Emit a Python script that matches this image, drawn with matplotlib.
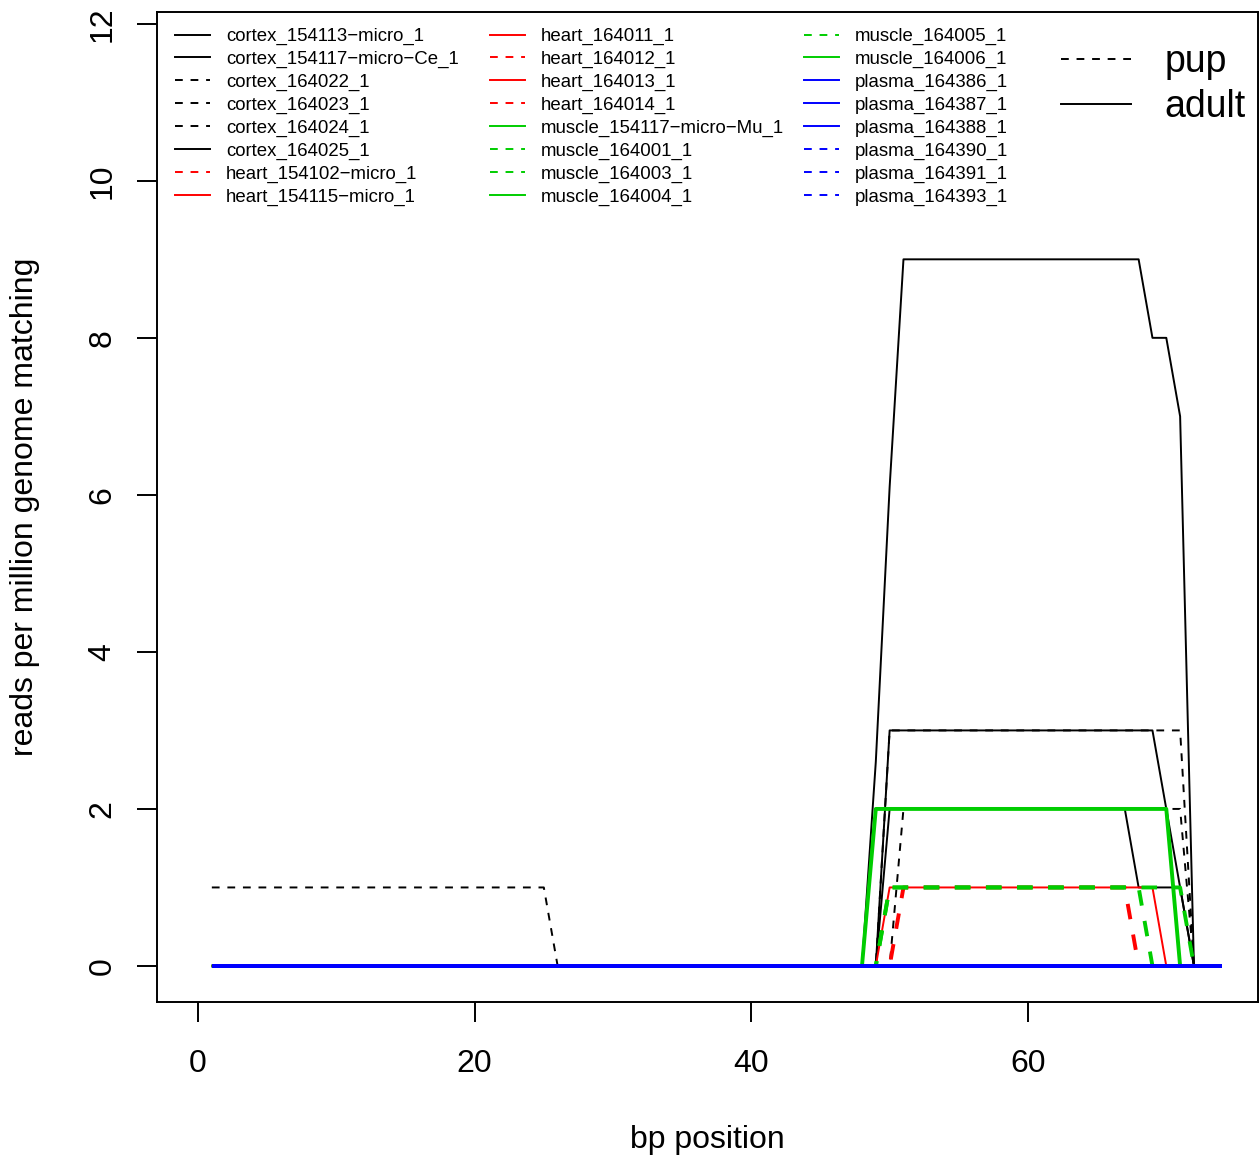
import matplotlib.pyplot as plt
from matplotlib.lines import Line2D

plt.rcParams['font.family'] = ['Liberation Sans', 'DejaVu Sans']

# bp positions along the read
pos = list(range(1, 75))

# reads per million genome matching, one list per sample (x = 1..74)
cortex_154113 = [0] * 47 + [0, 2.6, 6.1] + [9] * 18 + [8, 8, 7, 0, 0, 0]
cortex_154117 = [0] * 47 + [0, 0] + [3] * 20 + [2, 1, 0, 0, 0]
cortex_164022 = [1] * 25 + [0] * 49
cortex_164023 = [0] * 47 + [0, 0] + [3] * 22 + [0, 0, 0]
cortex_164024 = [0] * 47 + [0, 0, 0] + [2] * 21 + [0, 0, 0]
cortex_164025 = [0] * 47 + [0, 0] + [2] * 18 + [1, 1, 1, 1, 0, 0, 0]
heart_154102 = [0] * 74
heart_154115 = [0] * 74
heart_164011 = [0] * 47 + [0, 0] + [1] * 20 + [0] * 5
heart_164012 = [0] * 47 + [0, 0, 0] + [1] * 17 + [0] * 7
heart_164013 = [0] * 74
heart_164014 = [0] * 74
muscle_154117 = [0] * 74
muscle_164001 = [0] * 47 + [0, 0] + [1] * 22 + [0, 0, 0]
muscle_164003 = [0] * 47 + [0, 0] + [1] * 19 + [0] * 6
muscle_164004 = [0] * 47 + [0] + [2] * 22 + [0] * 4
muscle_164005 = [0] * 74
muscle_164006 = [0] * 74
plasma_164386 = [0] * 74
plasma_164387 = [0] * 74
plasma_164388 = [0] * 74
plasma_164390 = [0] * 74
plasma_164391 = [0] * 74
plasma_164393 = [0] * 74

labels = ["cortex_154113−micro_1", "cortex_154117−micro−Ce_1", "cortex_164022_1",
          "cortex_164023_1", "cortex_164024_1", "cortex_164025_1",
          "heart_154102−micro_1", "heart_154115−micro_1", "heart_164011_1",
          "heart_164012_1", "heart_164013_1", "heart_164014_1",
          "muscle_154117−micro−Mu_1", "muscle_164001_1", "muscle_164003_1",
          "muscle_164004_1", "muscle_164005_1", "muscle_164006_1",
          "plasma_164386_1", "plasma_164387_1", "plasma_164388_1",
          "plasma_164390_1", "plasma_164391_1", "plasma_164393_1"]
series = [cortex_154113, cortex_154117, cortex_164022, cortex_164023, cortex_164024, cortex_164025,
          heart_154102, heart_154115, heart_164011, heart_164012, heart_164013, heart_164014,
          muscle_154117, muscle_164001, muscle_164003, muscle_164004, muscle_164005, muscle_164006,
          plasma_164386, plasma_164387, plasma_164388, plasma_164390, plasma_164391, plasma_164393]
# pup samples dashed, adult solid
is_pup = [False, False, True, True, True, False,
          True, False, False, True, False, True,
          False, True, True, False, True, False,
          False, False, False, True, True, True]
tissue_col = {"cortex": "black", "heart": "#FF0000", "muscle": "#00CD00", "plasma": "#0000FF"}

thin = 1.4
thick = 2.8
widths = [thin] * 6 + [thin, thin, thin, thick, thin, thin] + [thin, thick, thick, thick, thin, thin] + [thick] * 6
dash = (0, (4, 4))

fig = plt.figure(figsize=(12.6, 11.57), dpi=100)
ax = fig.add_axes([157 / 1260, 1 - 1002 / 1157, 1101 / 1260, 990 / 1157])

handles = []
for lab, y, pup, lw in zip(labels, series, is_pup, widths):
    col = tissue_col[lab.split("_")[0]]
    ls = dash if pup else "-"
    ax.plot(pos, y, color=col, lw=lw, ls=ls, solid_capstyle='butt')
    handles.append(Line2D([], [], color=col, lw=thin, ls=ls))

ax.set_xlim(-2.964, 76.63)
ax.set_ylim(-0.459, 12.15)
ax.set_xticks([0, 20, 40, 60])
ax.set_yticks([0, 2, 4, 6, 8, 10, 12])
for s in ax.spines.values():
    s.set_linewidth(1.4)
ax.tick_params(length=14.4, width=1.4, labelsize=23)
ax.tick_params(axis='x', pad=19.8)
ax.tick_params(axis='y', labelrotation=90, pad=14)
for t in ax.get_yticklabels():
    t.set_va('center')

ax.set_xlabel("bp position", fontsize=23)
ax.xaxis.label.set_va('center')
ax.xaxis.set_label_coords(0.5, (1002 - 1140) / 990)
ax.set_ylabel("reads per million genome matching", fontsize=23)
ax.yaxis.label.set_va('center')
ax.yaxis.set_label_coords((25 - 157) / 1101, 0.5)

# three legend columns, placed like the R legend
col_left = [175, 490, 804]
for i, xl in enumerate(col_left):
    leg = ax.legend(handles[i * 8:(i + 1) * 8], labels[i * 8:(i + 1) * 8],
                    loc='upper left', bbox_to_anchor=(xl / 1260, 1 - 28 / 1157),
                    bbox_transform=fig.transFigure, frameon=False, fontsize=13.4,
                    handlelength=1.88, handletextpad=0.86, labelspacing=0.31,
                    borderpad=0, borderaxespad=0)
    ax.add_artist(leg)

age_handles = [Line2D([], [], color='black', lw=thin, ls=dash),
               Line2D([], [], color='black', lw=thin, ls='-')]
ax.legend(age_handles, ["pup", "adult"], loc='upper left',
          bbox_to_anchor=(1061 / 1260, 1 - 44 / 1157), bbox_transform=fig.transFigure,
          frameon=False, fontsize=27, handlelength=1.87, handletextpad=0.9,
          labelspacing=0.24, borderpad=0, borderaxespad=0)

fig.savefig("out.png", dpi=100)
